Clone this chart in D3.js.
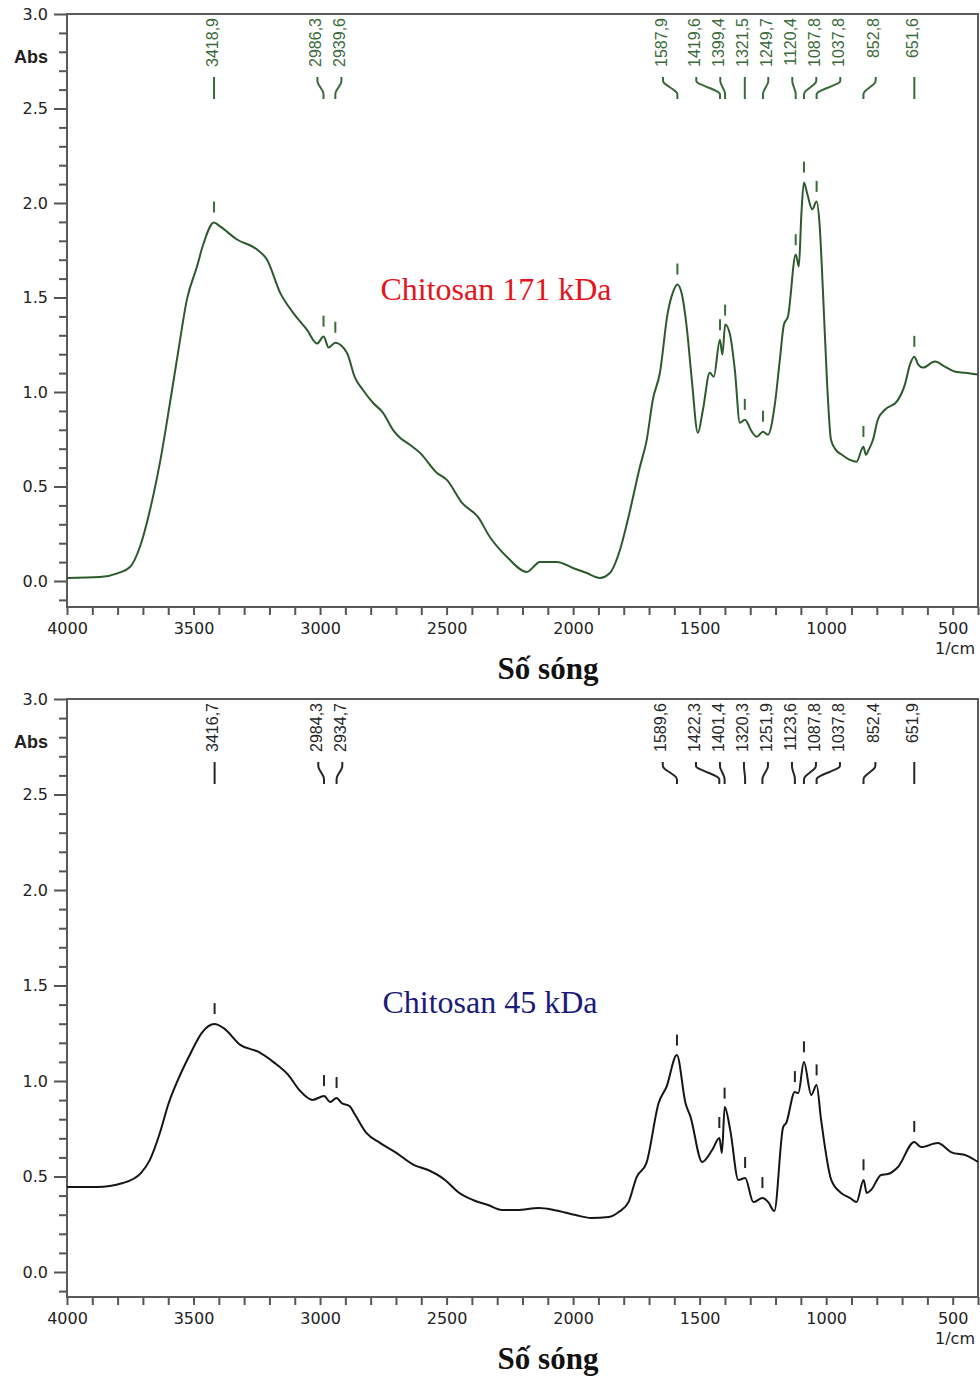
<!DOCTYPE html>
<html>
<head>
<meta charset="utf-8">
<script src="https://cdn.jsdelivr.net/npm/d3@7"></script>
<style>
  body { margin: 0; background: #fff; }
  svg { display: block; }
</style>
</head>
<body>
<svg id="chart" width="980" height="1376"></svg>
<script>
// Chitosan 171 kDa spectrum (wavenumber 1/cm, absorbance)
var wn171 = [4000, 3870, 3798, 3751, 3712, 3672, 3633, 3593, 3561, 3526, 3486, 3463, 3419, 3395, 3328, 3249, 3210, 3158, 3107, 3052,
  3012, 2986, 2966, 2940, 2894, 2862, 2831, 2791, 2751, 2712, 2684, 2645, 2605, 2538, 2499, 2439, 2376, 2329, 2261, 2183,
  2131, 2064, 2001, 1946, 1894, 1855, 1815, 1784, 1736, 1709, 1685, 1657, 1626, 1606, 1588, 1570, 1550, 1531, 1507, 1487,
  1460, 1444, 1420, 1410, 1399, 1380, 1361, 1341, 1321, 1294, 1274, 1250, 1230, 1203, 1183, 1167, 1151, 1120, 1108, 1098,
  1088, 1075, 1055, 1038, 1026, 1013, 997, 981, 962, 938, 906, 880, 853, 843, 832, 815, 796, 768, 721, 689,
  669, 652, 636, 618, 570, 531, 492, 452, 400];
var abs171 = [0.016, 0.021, 0.042, 0.074, 0.180, 0.376, 0.625, 0.943, 1.210, 1.490, 1.665, 1.775, 1.897, 1.876, 1.807, 1.754, 1.701, 1.526, 1.420, 1.330,
  1.256, 1.293, 1.235, 1.261, 1.208, 1.076, 1.012, 0.943, 0.890, 0.800, 0.758, 0.721, 0.678, 0.572, 0.535, 0.413, 0.339, 0.233, 0.127, 0.048,
  0.101, 0.101, 0.069, 0.042, 0.016, 0.042, 0.164, 0.323, 0.604, 0.747, 0.959, 1.102, 1.420, 1.526, 1.569, 1.516, 1.330, 1.065, 0.784, 0.906,
  1.102, 1.081, 1.277, 1.198, 1.357, 1.304, 1.118, 0.837, 0.853, 0.790, 0.763, 0.790, 0.774, 0.933, 1.171, 1.357, 1.399, 1.728, 1.664, 1.940,
  2.109, 2.050, 1.966, 2.008, 1.887, 1.542, 1.065, 0.747, 0.694, 0.668, 0.641, 0.631, 0.710, 0.668, 0.694, 0.747, 0.853, 0.906, 0.949, 1.039,
  1.145, 1.187, 1.145, 1.129, 1.161, 1.134, 1.108, 1.102, 1.092];
var peaks171 = [3418.9, 2986.3, 2939.6, 1587.9, 1419.6, 1399.4, 1321.5, 1249.7, 1120.4, 1087.8, 1037.8, 852.8, 651.6];

// Chitosan 45 kDa spectrum
var wn45 = [4000, 3882, 3779, 3708, 3673, 3633, 3598, 3562, 3511, 3468, 3417, 3381, 3314, 3243, 3184, 3125, 3082, 3030, 2984, 2960,
  2935, 2915, 2884, 2861, 2817, 2762, 2703, 2628, 2573, 2506, 2455, 2396, 2336, 2281, 2222, 2135, 2076, 1990, 1930, 1859,
  1820, 1781, 1749, 1710, 1662, 1631, 1590, 1556, 1536, 1490, 1450, 1422, 1412, 1401, 1379, 1347, 1320, 1288, 1252, 1229,
  1205, 1170, 1158, 1124, 1110, 1088, 1059, 1038, 1020, 980, 941, 905, 880, 852, 840, 823, 783, 756, 716, 652,
  625, 559, 507, 440, 400];
var abs45 = [0.445, 0.445, 0.466, 0.518, 0.586, 0.728, 0.885, 1.005, 1.147, 1.251, 1.298, 1.277, 1.188, 1.152, 1.099, 1.031, 0.953, 0.901, 0.921, 0.890,
  0.911, 0.885, 0.869, 0.822, 0.728, 0.675, 0.628, 0.560, 0.534, 0.482, 0.419, 0.377, 0.351, 0.325, 0.325, 0.335, 0.325, 0.298, 0.283, 0.288,
  0.314, 0.366, 0.497, 0.571, 0.885, 0.969, 1.136, 0.885, 0.812, 0.576, 0.640, 0.702, 0.623, 0.864, 0.743, 0.482, 0.492, 0.366, 0.387, 0.366,
  0.319, 0.759, 0.780, 0.942, 0.937, 1.099, 0.927, 0.979, 0.796, 0.482, 0.414, 0.387, 0.366, 0.482, 0.414, 0.429, 0.508, 0.513, 0.550, 0.681,
  0.654, 0.675, 0.628, 0.607, 0.576];
var peaks45 = [3416.7, 2984.3, 2934.7, 1589.6, 1422.3, 1401.4, 1320.3, 1251.9, 1123.6, 1087.8, 1037.8, 852.4, 651.9];

// axis labels
var xTickLabels = [4000, 3500, 3000, 2500, 2000, 1500, 1000, 500];
var yTickLabels = [0.0, 0.5, 1.0, 1.5, 2.0, 2.5, 3.0];

var svg = d3.select("#chart");

var panels = [
  { top: 14, zero: 581, bottom: 607, wn: wn171, abs: abs171, peaks: peaks171,
    line: "#2c5a2c", mark: "#3a6a3a", title: "Chitosan 171 kDa", titleColor: "#e5141c", titleX: 496, titleY: 300 },
  { top: 699, zero: 1272, bottom: 1297, wn: wn45, abs: abs45, peaks: peaks45,
    line: "#151515", mark: "#262626", title: "Chitosan 45 kDa", titleColor: "#1b1b7a", titleX: 490, titleY: 1013 }
];

// absorbance at a wavenumber, linear between the read points
function valueAt(wns, vals, w) {
  for (var i = 0; i < wns.length - 1; i++) {
    if (w <= wns[i] && w >= wns[i + 1]) {
      var t = (wns[i] - w) / (wns[i] - wns[i + 1]);
      return vals[i] + t * (vals[i + 1] - vals[i]);
    }
  }
  return vals[vals.length - 1];
}

// spread peak labels so they do not overlap (forward / backward sweep, averaged)
function spread(px, gap) {
  var n = px.length, f = px.slice(), b = px.slice();
  for (var i = 1; i < n; i++) f[i] = Math.max(px[i], f[i - 1] + gap);
  for (var j = n - 2; j >= 0; j--) b[j] = Math.min(px[j], b[j + 1] - gap);
  return px.map(function (d, k) { return (f[k] + b[k]) / 2; });
}

function fmtPeak(d) { return d.toFixed(1).replace(".", ","); }

panels.forEach(function (p) {
  var g = svg.append("g");

  var x = d3.scaleLinear().domain([4000, 400]).range([67, 978]);
  var y = d3.scaleLinear().domain([0, 3]).range([p.zero, p.top]);

  // y axis: ticks every 0.1, labels every 0.5
  var yTicks = d3.range(-1, 31).map(function (i) { return i / 10; });
  var isMajor = function (d) {
    return yTickLabels.some(function (v) { return Math.abs(v - d) < 1e-6; });
  };
  var yAxis = d3.axisLeft(y)
    .tickValues(yTicks)
    .tickSize(8)
    .tickFormat(function (d) { return isMajor(d) ? d.toFixed(1) : ""; });

  var gy = g.append("g")
    .attr("transform", "translate(67,0)")
    .call(yAxis);
  gy.select(".domain").remove();
  gy.selectAll(".tick line")
    .attr("stroke", "#555").attr("stroke-width", 2)
    .attr("x2", function (d) { return isMajor(d) ? -13 : -8; });
  gy.selectAll(".tick text")
    .attr("x", -19)
    .attr("fill", "#222")
    .style("font-family", "DejaVu Sans, sans-serif")
    .style("font-size", "16px");

  // x axis: ticks every 100 1/cm
  var xAxis = d3.axisBottom(x)
    .tickValues(d3.range(4000, 399, -100))
    .tickSize(8)
    .tickFormat(function (d) { return xTickLabels.indexOf(d) >= 0 ? d : ""; });

  var gx = g.append("g")
    .attr("transform", "translate(0," + p.bottom + ")")
    .call(xAxis);
  gx.select(".domain").remove();
  gx.selectAll(".tick line").attr("stroke", "#555").attr("stroke-width", 2);
  gx.selectAll(".tick text")
    .attr("y", 16)
    .attr("fill", "#222")
    .style("font-family", "DejaVu Sans, sans-serif")
    .style("font-size", "16px");

  // frame
  g.append("rect")
    .attr("x", 67).attr("y", p.top)
    .attr("width", 978 - 67).attr("height", p.bottom - p.top)
    .attr("fill", "none")
    .attr("stroke", "#5a5a5a")
    .attr("stroke-width", 2);

  g.append("text")
    .attr("x", 48).attr("y", p.top + 49)
    .attr("text-anchor", "end")
    .attr("fill", "#222")
    .style("font-family", "Liberation Sans, Arial, sans-serif")
    .style("font-size", "18px")
    .style("font-weight", "bold")
    .text("Abs");

  g.append("text")
    .attr("x", 975).attr("y", p.bottom + 47)
    .attr("text-anchor", "end")
    .attr("fill", "#222")
    .style("font-family", "DejaVu Sans, sans-serif")
    .style("font-size", "16px")
    .text("1/cm");

  g.append("text")
    .attr("x", 548).attr("y", p.bottom + 72)
    .attr("text-anchor", "middle")
    .attr("fill", "#111")
    .style("font-family", "Liberation Serif, Times New Roman, serif")
    .style("font-size", "31px")
    .style("font-weight", "bold")
    .text("Số sóng");

  // spectrum
  var pts = p.wn.map(function (w, i) { return [w, p.abs[i]]; });
  var line = d3.line()
    .x(function (d) { return x(d[0]); })
    .y(function (d) { return y(d[1]); })
    .curve(d3.curveMonotoneX);

  g.append("path")
    .datum(pts)
    .attr("d", line)
    .attr("fill", "none")
    .attr("stroke", p.line)
    .attr("stroke-width", 2);

  // peak marks above the curve
  g.selectAll(".pk")
    .data(p.peaks)
    .enter().append("line")
    .attr("x1", function (d) { return x(d); })
    .attr("x2", function (d) { return x(d); })
    .attr("y1", function (d) { return y(valueAt(p.wn, p.abs, d)) - 21; })
    .attr("y2", function (d) { return y(valueAt(p.wn, p.abs, d)) - 10; })
    .attr("stroke", p.mark)
    .attr("stroke-width", 2);

  // peak labels along the top with leader lines
  var px = p.peaks.map(function (d) { return x(d); });
  var slots = spread(px, 24);
  var y0 = p.top + 63, y1 = p.top + 85;
  var lead = d3.line().curve(d3.curveBasis);

  p.peaks.forEach(function (d, i) {
    var sx = slots[i], tx = px[i];
    var path = Math.abs(sx - tx) < 1
      ? "M" + tx + "," + y0 + "V" + y1
      : lead([[sx, y0], [sx, y0 + 4], [sx, y0 + 6], [tx, y0 + 15], [tx, y0 + 17], [tx, y1]]);
    g.append("path")
      .attr("d", path)
      .attr("fill", "none")
      .attr("stroke", p.mark)
      .attr("stroke-width", 2);

    g.append("text")
      .attr("transform", "translate(" + (sx - 2) + "," + (p.top + 4) + ") rotate(-90)")
      .attr("text-anchor", "end")
      .attr("dy", "0.35em")
      .attr("fill", p.mark)
      .style("font-family", "Liberation Sans, Arial, sans-serif")
      .style("font-size", "16px")
      .text(fmtPeak(d));
  });

  // sample name
  g.append("text")
    .attr("x", p.titleX).attr("y", p.titleY)
    .attr("text-anchor", "middle")
    .attr("fill", p.titleColor)
    .style("font-family", "Liberation Serif, Times New Roman, serif")
    .style("font-size", "32px")
    .text(p.title);
});
</script>
</body>
</html>
